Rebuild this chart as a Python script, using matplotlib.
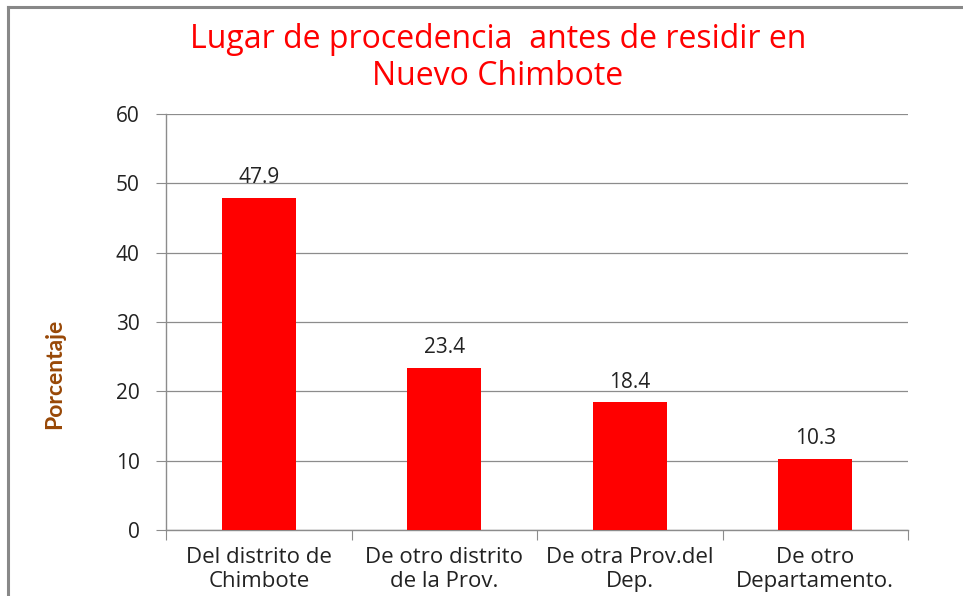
import matplotlib
matplotlib.use("Agg")
import matplotlib.pyplot as plt
from matplotlib.lines import Line2D

categories = ["Del distrito de\nChimbote", "De otro distrito\nde la Prov.", "De otra Prov.del\nDep.", "De otro\nDepartamento."]
values = [47.9, 23.4, 18.4, 10.3]
yticks = [0, 10, 20, 30, 40, 50, 60]
title = "Lugar de procedencia  antes de residir en\nNuevo Chimbote"
ylabel = "Porcentaje"

plt.rcParams['font.family'] = ['Open Sans', 'DejaVu Sans']

fig = plt.figure(figsize=(9.63, 5.96), dpi=100)
ax = fig.add_axes([166/963, 1-530/596, (908-166)/963, (530-114)/596])

x = list(range(len(categories)))
ax.bar(x, values, width=0.4, color="#FF0000", zorder=3)
for xi, v in zip(x, values):
    ax.annotate(f"{v}", (xi, v), xytext=(0, 7), textcoords="offset points",
                ha="center", va="bottom", fontsize=15, color="#222222")

ax.set_xlim(-0.5, len(categories) - 0.5)
ax.set_ylim(0, 60)
ax.set_yticks(yticks)
ax.set_yticklabels([str(t) for t in yticks], fontsize=15, color="#222222")
ax.yaxis.grid(True, color="#8c8c8c", linewidth=0.9, zorder=0)
ax.set_axisbelow(True)

ax.set_xticks([i + 0.5 for i in range(-1, len(categories))], minor=False)
ax.set_xticklabels([""] * (len(categories) + 1))
ax.tick_params(axis="x", length=7, color="#8c8c8c", direction="out")
ax.set_xticks(x, minor=True)
ax.set_xticklabels(categories, minor=True, fontsize=16, color="#222222", linespacing=1.2)
ax.tick_params(axis="x", which="minor", length=0, pad=12)
ax.tick_params(axis="y", length=7, color="#8c8c8c", pad=12)

for s in ["top", "right"]:
    ax.spines[s].set_visible(False)
for s in ["left", "bottom"]:
    ax.spines[s].set_color("#8c8c8c")
    ax.spines[s].set_linewidth(1.0)

fig.text(498/963, 1-58/596, title, ha="center", va="center", fontsize=23,
         color="#FF0000", linespacing=1.13)
fig.text(55/963, 1-374/596, ylabel, ha="center", va="center", rotation=90,
         fontsize=16.5, fontweight="bold", color="#984807", family=['Lato', 'DejaVu Sans'])

fig.add_artist(Line2D([8/963, 8/963], [0, 1-7/596], transform=fig.transFigure,
                      color="#888888", linewidth=2.2))
fig.add_artist(Line2D([8/963, 1], [1-7/596, 1-7/596], transform=fig.transFigure,
                      color="#888888", linewidth=2.2))

fig.savefig("out.png", dpi=100)
